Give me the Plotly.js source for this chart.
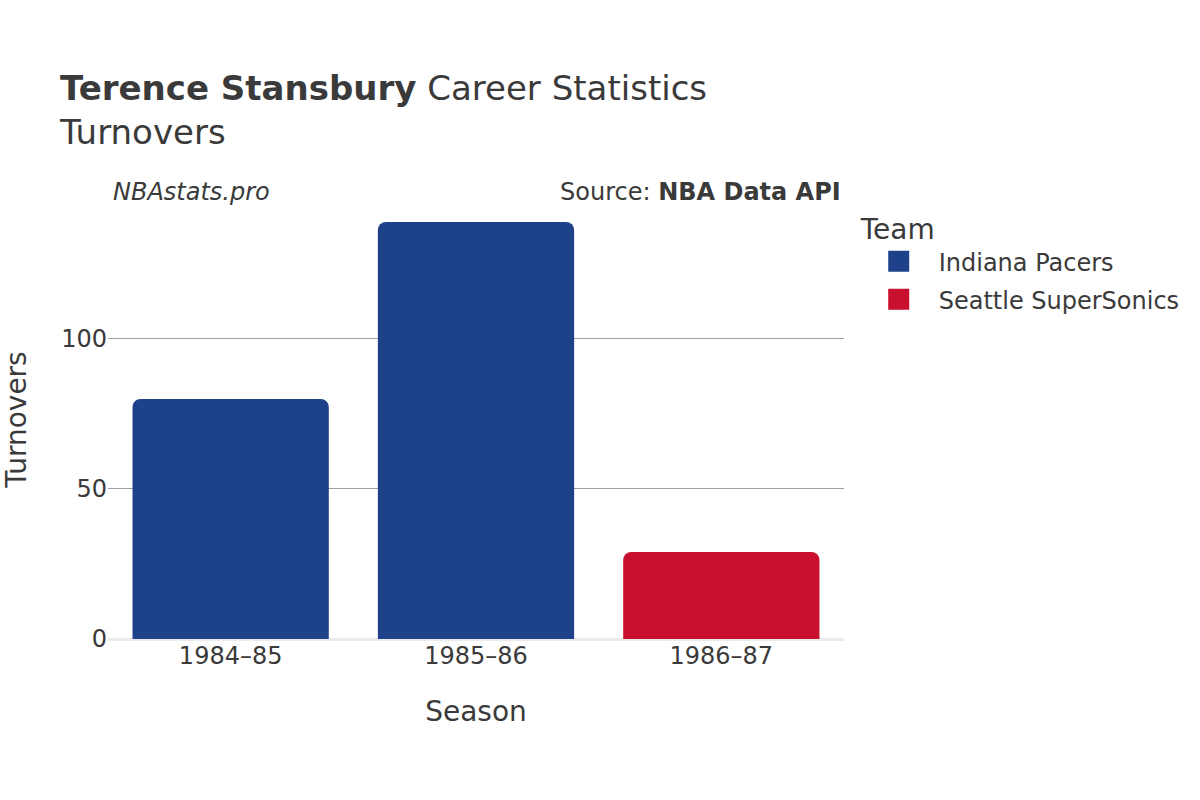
<!DOCTYPE html>
<html>
<head>
<meta charset="utf-8">
<script src="https://cdn.plot.ly/plotly-3.0.1.min.js"></script>
<style>html,body{margin:0;padding:0;background:#fff;}#chart{width:1200px;height:800px;}</style>
</head>
<body>
<div id="chart"></div>
<script>
const seasons = ["1984–85", "1985–86", "1986–87"];
const teams = ["Indiana Pacers", "Seattle SuperSonics"];
const teamColors = ["#1d4289", "#c8102e"];
const indianaSeasons = ["1984–85", "1985–86"];
const indianaTurnovers = [80, 139];
const seattleSeasons = ["1986–87"];
const seattleTurnovers = [29];
const yTicks = [0, 50, 100];

const font = "DejaVu Sans";
const textColor = "#3a3a3a";

const traces = [
  {type: "bar", name: teams[0], x: indianaSeasons, y: indianaTurnovers, showlegend: false,
   marker: {color: teamColors[0], cornerradius: 8}},
  {type: "bar", name: teams[1], x: seattleSeasons, y: seattleTurnovers, showlegend: false,
   marker: {color: teamColors[1], cornerradius: 8}},
  {type: "scatter", mode: "markers", name: teams[0], x: [null], y: [null], legendgroup: "a",
   marker: {color: teamColors[0], symbol: "square", size: 16, line: {width: 5, color: teamColors[0]}}},
  {type: "scatter", mode: "markers", name: teams[1], x: [null], y: [null], legendgroup: "b",
   marker: {color: teamColors[1], symbol: "square", size: 16, line: {width: 5, color: teamColors[1]}}}
];

const layout = {
  width: 1200, height: 800,
  paper_bgcolor: "#fff", plot_bgcolor: "#fff",
  font: {family: font, color: textColor, size: 24},
  margin: {l: 108, r: 356, t: 200, b: 161},
  barmode: "overlay",
  bargap: 0.2,
  title: {
    text: "<b>Terence Stansbury</b> Career Statistics<br>Turnovers",
    x: 0.05, xanchor: "left", xref: "container",
    y: 0.875, yanchor: "top", yref: "container",
    font: {family: font, size: 34, color: textColor}
  },
  xaxis: {
    type: "category", categoryorder: "array", categoryarray: seasons,
    title: {text: "Season", font: {size: 28}, standoff: 32},
    tickfont: {size: 24},
    showgrid: false, ticks: "", showline: false
  },
  yaxis: {
    range: [0, 146.3],
    tickvals: yTicks,
    title: {text: "Turnovers", font: {size: 28}, standoff: 26},
    tickfont: {size: 24},
    showgrid: true, gridcolor: "#a0a0a0", gridwidth: 1,
    zeroline: true, zerolinecolor: "#ebebeb", zerolinewidth: 3,
    ticks: "", showline: false
  },
  legend: {
    title: {text: "Team", font: {size: 28}},
    x: 1.02, xanchor: "left", y: 0.994, yanchor: "top",
    font: {size: 24}, tracegroupgap: 4, itemwidth: 70
  },
  annotations: [
    {text: "<i>NBAstats.pro</i>", xref: "paper", yref: "paper", x: 0.004, y: 1.018,
     xanchor: "left", yanchor: "middle", showarrow: false, font: {size: 24, color: textColor}},
    {text: "Source: <b>NBA Data API</b>", xref: "paper", yref: "paper", x: 0.999, y: 1.018,
     xanchor: "right", yanchor: "middle", showarrow: false, font: {size: 24, color: textColor}}
  ]
};

Plotly.newPlot("chart", traces, layout, {displayModeBar: false, staticPlot: true});
</script>
</body>
</html>
